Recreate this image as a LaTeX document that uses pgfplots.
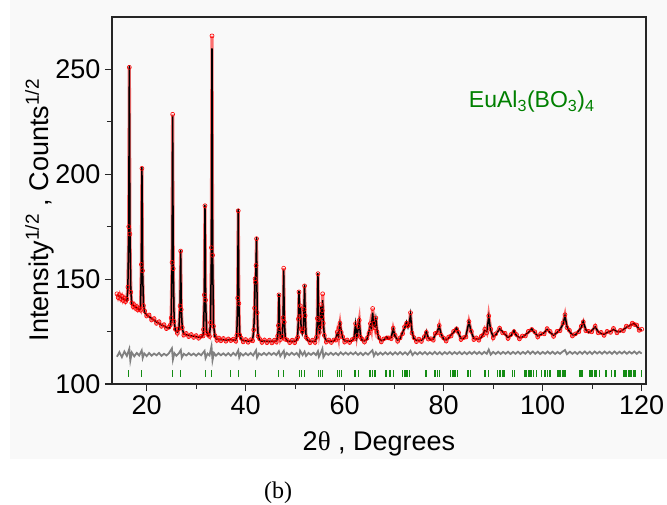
\documentclass[border=0pt]{standalone}
\usepackage{fontspec}
\setmainfont{Liberation Sans}
\newfontfamily\seriffont{Liberation Serif}
\usepackage{pgfplots}
\pgfplotsset{compat=1.18}
\usepackage{pgfplotstable}
\definecolor{panelgray}{RGB}{249,249,249}
\definecolor{titlegreen}{RGB}{0,128,0}
\definecolor{tickgreen}{RGB}{20,140,20}

\pgfplotstableread{
x obs calc
14.0 143.0 142.5
14.25 141.2 142.1
14.5 142.6 141.8
14.75 140.7 141.4
15.0 141.9 141.0
15.25 139.8 140.6
15.5 140.9 140.3
15.75 139.3 140.0
16.0 140.4 139.7
16.2 146.2 145.0
16.38 175.0 173.2
16.5 251.0 252.0
16.62 171.5 173.2
16.8 143.8 144.6
17.0 138.6 138.0
17.25 136.9 137.6
17.5 137.8 137.2
17.75 136.1 136.7
18.0 136.9 136.3
18.25 135.3 135.9
18.5 136.0 135.5
18.75 135.2 135.8
18.93 157.0 155.4
19.05 202.8 203.5
19.17 154.0 155.4
19.35 137.4 138.2
19.6 134.8 134.0
20.0 132.4 133.0
20.5 132.9 132.1
21.0 130.5 131.2
21.5 131.2 130.4
22.0 128.9 129.6
22.5 129.7 128.9
23.0 127.5 128.2
23.5 128.3 127.6
24.0 126.4 127.0
24.5 127.1 126.5
24.8 128.2 127.5
24.95 131.5 130.9
25.13 158.0 156.5
25.25 228.6 228.0
25.37 155.0 156.5
25.55 129.8 130.6
25.8 126.1 125.4
26.2 124.2 124.8
26.5 126.3 125.6
26.75 137.2 136.3
26.87 163.4 164.0
26.99 135.5 136.3
27.2 126.9 126.2
27.5 123.3 123.9
28.0 124.1 123.5
28.5 122.6 123.2
29.0 123.6 123.0
29.5 122.2 122.8
30.0 123.1 122.6
30.5 121.8 122.4
31.0 122.8 122.2
31.4 122.9 123.5
31.48 126.0 125.2
31.66 142.5 141.0
31.78 185.0 185.5
31.9 140.0 141.0
32.1 124.3 125.0
32.4 123.5 122.8
32.7 122.7 123.3
32.9 129.3 128.5
33.08 165.0 163.1
33.2 266.0 260.0
33.32 161.4 163.1
33.5 127.6 128.5
33.8 123.0 122.4
34.2 120.8 121.4
34.6 121.9 121.3
35.0 120.6 121.2
35.5 121.7 121.1
36.0 120.4 121.0
36.5 121.5 120.9
37.0 120.7 121.3
37.5 121.4 120.9
38.0 120.4 121.0
38.2 123.2 122.5
38.38 141.0 139.6
38.5 182.6 183.5
38.62 138.4 139.6
38.8 123.3 124.0
39.1 121.9 121.2
39.5 120.1 120.7
40.0 121.2 120.6
40.5 119.9 120.5
41.0 121.1 120.5
41.4 120.6 121.2
41.62 125.8 125.0
41.8 136.2 135.0
41.9 150.2 151.0
42.0 148.5 147.0
42.1 156.5 158.0
42.2 169.3 170.0
42.32 134.0 135.2
42.5 122.8 123.5
42.8 121.6 120.9
43.3 119.8 120.4
43.8 121.0 120.4
44.3 119.7 120.3
44.8 120.9 120.3
45.3 119.6 120.3
45.8 120.9 120.3
46.2 120.0 120.6
46.45 122.9 122.2
46.61 127.9 127.1
46.73 142.5 143.0
46.85 126.4 127.2
47.05 121.2 121.8
47.38 122.7 122.0
47.56 131.6 130.6
47.68 155.2 154.5
47.8 129.5 130.6
48.0 121.3 122.0
48.4 121.0 120.4
48.9 119.7 120.3
49.4 120.9 120.3
49.9 119.7 120.3
50.3 121.4 120.8
50.5 122.3 123.0
50.65 131.0 130.0
50.77 143.9 144.5
50.9 132.2 133.0
51.05 137.3 136.5
51.2 126.3 127.0
51.45 124.8 124.0
51.65 126.3 125.5
51.78 135.6 134.6
51.9 146.8 147.5
52.02 132.6 133.5
52.2 122.3 123.0
52.5 121.4 120.8
53.0 119.7 120.3
53.5 120.9 120.3
54.0 119.8 120.4
54.3 122.3 121.6
54.48 131.3 130.4
54.6 152.6 153.0
54.72 130.6 131.5
54.9 124.6 124.0
55.1 127.2 128.0
55.2 137.8 137.0
55.35 132.0 131.0
55.47 135.0 134.0
55.55 143.0 140.0
55.68 129.0 130.0
55.9 123.2 122.5
56.3 120.0 120.6
56.8 121.0 120.4
57.3 119.8 120.3
57.8 121.0 120.4
58.2 120.9 121.5
58.5 124.8 124.0
58.75 122.0 122.8
58.9 126.8 126.0
59.05 129.0 128.8
59.3 124.6 125.5
59.6 122.5 121.8
60.0 120.0 120.6
60.5 121.0 120.4
61.0 119.8 120.4
61.5 121.2 120.6
61.9 121.4 122.0
62.2 128.8 128.5
62.45 123.1 122.5
62.75 127.4 126.5
62.95 130.4 129.5
63.2 122.3 123.0
63.5 121.4 120.8
64.0 120.0 120.6
64.5 121.8 121.2
64.9 124.2 125.0
65.2 128.8 128.0
65.4 126.4 127.0
65.65 136.0 134.0
65.9 129.0 128.0
66.1 126.8 127.5
66.3 131.5 131.0
66.55 124.8 125.5
66.9 122.2 121.5
67.4 120.1 120.7
67.9 121.5 120.9
68.5 122.0 122.4
68.9 122.0 121.4
69.4 121.6 122.2
69.8 126.6 126.2
70.2 123.2 122.6
70.7 120.4 121.0
71.2 122.0 121.4
71.7 124.0 124.8
72.1 127.3 126.5
72.5 129.0 129.6
72.8 127.8 127.0
73.05 128.3 129.0
73.3 134.0 133.0
73.6 124.3 125.0
74.0 122.1 121.5
74.5 120.2 120.8
75.0 121.4 120.8
75.5 120.3 120.9
76.1 122.6 122.0
76.5 124.6 125.0
76.9 121.4 122.0
77.4 121.6 121.0
77.9 120.9 121.5
78.3 124.1 123.5
78.7 124.4 125.0
79.1 127.9 127.5
79.5 123.2 123.8
80.0 121.9 121.3
80.5 120.5 121.1
81.0 122.4 121.8
81.5 122.9 123.5
82.0 125.1 124.5
82.6 126.3 126.7
83.0 124.6 124.0
83.5 121.2 121.8
84.0 122.1 121.5
84.5 122.4 123.0
85.1 129.8 129.6
85.6 125.1 124.5
86.1 121.2 121.8
86.6 122.0 121.4
87.1 120.9 121.5
87.6 122.8 122.2
88.0 123.4 124.0
88.3 126.1 125.5
88.7 124.4 125.0
89.1 132.5 132.0
89.5 126.1 125.5
90.0 122.0 122.6
90.5 123.9 123.3
91.3 126.6 126.3
91.9 124.4 125.0
92.4 124.2 123.6
93.0 121.7 122.3
93.6 123.6 123.0
94.2 125.0 125.5
94.7 123.6 123.0
95.3 121.5 122.1
95.9 122.9 122.3
96.5 122.9 123.5
97.1 125.1 124.5
97.8 126.0 126.3
98.4 124.9 124.3
99.0 122.4 123.0
99.6 124.0 123.4
100.3 123.9 124.5
100.9 126.4 126.0
101.5 125.1 124.5
102.2 122.7 123.3
102.9 125.1 124.5
103.5 125.4 126.0
104.1 129.1 128.5
104.5 133.0 132.5
104.9 126.9 127.5
105.4 125.6 125.0
106.0 122.9 123.5
106.6 123.9 123.3
107.3 124.9 125.5
107.8 127.6 127.0
108.2 129.6 129.8
108.7 125.4 126.0
109.3 125.1 124.5
109.9 124.9 125.5
110.6 127.6 127.2
111.2 124.4 125.0
111.8 124.6 124.0
112.4 123.2 123.8
113.0 125.1 124.5
113.7 124.6 125.2
114.3 126.5 126.0
115.0 124.4 125.0
115.7 125.6 125.0
116.3 125.4 126.0
116.9 127.6 127.0
117.5 127.2 127.8
118.1 129.0 128.5
118.5 128.4 128.8
119.0 128.1 127.5
119.5 125.6 126.2
120.0 126.1 125.6
}\profile

\pgfplotstableread{
x d
14 113.0
14.5 115.2
15 112.8
15.5 115.5
16 113.4
16.5 116.8
16.7 111.2
17 115.0
17.5 113.2
18 114.8
18.5 113.6
19 116.0
19.2 112.4
19.5 114.6
20 113.3
20.5 114.8
21 113.5
21.5 114.5
22 113.7
22.5 114.8
23 113.4
23.5 114.4
24 113.6
24.5 114.7
25.1 117.0
25.3 111.6
25.6 114.7
26 113.5
26.5 114.6
26.9 116.2
27.1 112.6
27.5 114.4
28 113.6
28.5 114.7
29 113.7
29.5 114.5
30 113.5
30.5 114.6
31 113.7
31.7 115.8
31.9 112.3
32.3 114.5
32.7 113.6
33.1 118.0
33.3 111.3
33.6 114.8
34 113.5
34.5 114.7
35 113.7
35.5 114.6
36 113.6
36.5 114.7
37 113.5
37.5 114.8
38 113.7
38.5 116.0
38.7 112.7
39 114.6
39.5 113.6
40 114.7
40.5 113.7
41 114.8
41.5 113.6
42.1 116.1
42.3 112.6
42.7 114.6
43.2 113.8
43.7 114.8
44.2 113.8
44.7 114.9
45.2 113.9
45.7 114.8
46.2 113.8
46.7 115.6
47.0 113.3
47.7 115.8
47.9 113.0
48.3 114.8
48.8 113.8
49.3 114.9
49.8 113.9
50.3 114.8
50.8 113.2
51.0 115.8
51.5 113.8
51.9 115.4
52.2 113.4
52.7 114.8
53.2 113.9
53.7 114.9
54.2 113.8
54.6 115.6
54.8 113.0
55.2 115.0
55.5 116.8
55.7 112.8
56.2 114.8
56.7 113.9
57.2 114.9
57.7 113.9
58.2 114.8
58.7 113.8
59.2 115.1
59.7 114.0
60.2 115.0
60.7 114.0
61.2 115.0
61.7 114.1
62.2 115.1
62.7 113.9
63.2 114.9
63.7 113.8
64.2 114.9
64.7 114.0
65.2 115.2
65.6 116.1
65.9 113.4
66.3 115.1
66.7 113.9
67.2 115.0
67.7 114.0
68.2 115.1
68.7 114.1
69.2 115.1
69.7 114.0
70.2 115.1
70.7 114.1
71.2 115.2
71.7 114.1
72.2 115.1
72.7 114.0
73.3 115.8
73.7 113.8
74.2 115.1
74.7 114.1
75.2 115.2
75.7 114.2
76.2 115.2
76.7 114.1
77.2 115.1
77.7 114.2
78.2 115.3
78.7 114.2
79.2 115.2
79.7 114.1
80.2 115.2
80.7 114.3
81.2 115.3
81.7 114.2
82.2 115.2
82.7 114.3
83.2 115.3
83.7 114.2
84.2 115.2
84.7 114.2
85.2 115.3
85.7 114.3
86.2 115.4
86.7 114.3
87.2 115.3
87.7 114.2
88.2 115.3
88.7 114.4
89.1 116.4
89.5 114.0
90.0 115.3
90.5 114.3
91.0 115.4
91.5 114.3
92.0 115.3
92.5 114.4
93.0 115.4
93.5 114.3
94.0 115.3
94.5 114.4
95.0 115.4
95.5 114.3
96.0 115.3
96.5 114.4
97.0 115.6
97.5 114.4
98.0 115.5
98.5 114.4
99.0 115.4
99.5 114.3
100.0 115.3
100.5 114.4
101.0 115.5
101.5 114.4
102.0 115.4
102.5 114.3
103.0 115.3
103.5 114.4
104.0 115.4
104.5 116.2
104.9 114.2
105.5 115.4
106.0 114.4
106.5 115.3
107.0 114.3
107.5 115.4
108.0 114.4
108.5 115.5
109.0 114.4
109.5 115.4
110.0 114.3
110.5 115.5
111.0 114.5
111.5 115.4
112.0 114.4
112.5 115.5
113.0 114.5
113.5 115.4
114.0 114.4
114.5 115.5
115.0 114.4
115.5 115.4
116.0 114.5
116.5 115.5
117.0 114.4
117.5 115.4
118.0 114.5
118.5 115.5
119.0 114.4
119.5 115.4
120.0 114.5
}\diffdata

\pgfplotstableread{
x y
16.3 105
19.0 105
25.2 105
26.9 105
31.8 105
33.1 105
37.0 105
38.5 105
42.0 105
46.7 105
47.6 105
50.8 105
51.2 105
51.8 105
54.7 105
55.2 105
55.6 105
58.5 105
58.9 105
59.3 105
62.08 105
62.75 105
64.97 105
65.3 105
65.66 105
65.99 105
66.3 105
68.35 105
69.15 105
69.82 105
71.7 105
72.04 105
72.38 105
72.7 105
73.05 105
76.42 105
78.24 105
78.7 105
79.1 105
81.4 105
81.74 105
82.08 105
82.42 105
82.75 105
84.77 105
85.1 105
85.45 105
88.34 105
89.0 105
90.9 105
91.37 105
91.84 105
92.18 105
93.94 105
94.26 105
96.42 105
96.76 105
97.09 105
97.43 105
97.78 105
98.1 105
98.79 105
99.8 105
100.47 105
100.94 105
101.48 105
102.95 105
103.29 105
103.64 105
103.96 105
104.3 105
104.65 105
107.4 105
107.74 105
108.08 105
109.41 105
109.76 105
110.1 105
110.42 105
110.77 105
111.43 105
112.79 105
113.94 105
114.6 105
116.28 105
116.63 105
116.97 105
117.29 105
117.64 105
117.98 105
118.3 105
118.65 105
119.9 105
}\refl

\begin{document}
\begin{tikzpicture}[x=1pt,y=1pt]
\useasboundingbox (0,0) rectangle (667,504);
\fill[white] (0,0) rectangle (667,504);
\fill[panelgray] (10,45) rectangle (667,504);
\begin{axis}[
  at={(112pt,120pt)}, anchor=south west,
  scale only axis, width=534pt, height=367pt,
  xmin=13, xmax=120.87, ymin=100, ymax=275,
  axis line style={line width=1.4pt, black!85},
  tick pos=left, tick align=outside,
  xtick={20,40,...,120}, minor xtick={30,50,...,110},
  ytick={100,150,200,250}, minor ytick={125,175,225},
  major tick length=7pt, minor tick length=5pt,
  every tick/.style={line width=1.2pt, black!85},
  tick label style={font=\fontsize{27}{30}\selectfont},
  /pgf/number format/assume math mode=true,
  /pgf/number format/1000 sep={},
  yticklabel style={xshift=-1pt},
  xticklabel style={yshift=-1pt},
]
\addplot[red, line width=3.2pt, opacity=0.55] table[x=x, y=obs] {\profile};
\addplot[only marks, mark=o, mark size=2pt, red, mark options={line width=0.6pt}] table[x=x, y=obs] {\profile};
\addplot[black, line width=1.5pt] table[x=x, y=calc] {\profile};
\addplot[gray, line width=1.8pt] table[x=x, y=d] {\diffdata};
\addplot[only marks, mark=|, mark size=3.5pt, tickgreen, mark options={line width=1.1pt}] table[x=x, y=y] {\refl};
\end{axis}
\node[anchor=base east, text=titlegreen, font=\fontsize{23}{26}\selectfont] at (598,396) {EuAl\textsubscript{3}(BO\textsubscript{3})\textsubscript{4}};
\node[anchor=base, font=\fontsize{27}{30}\selectfont] at (379,54) {2{\seriffont θ} , Degrees};
\node[rotate=90, anchor=base, font=\fontsize{27}{30}\selectfont] at (48,294) {Intensity\textsuperscript{1/2} , Counts\textsuperscript{1/2}};
\node[anchor=base, font=\seriffont\fontsize{24}{26}\selectfont] at (278,6) {(b)};
\end{tikzpicture}
\end{document}
